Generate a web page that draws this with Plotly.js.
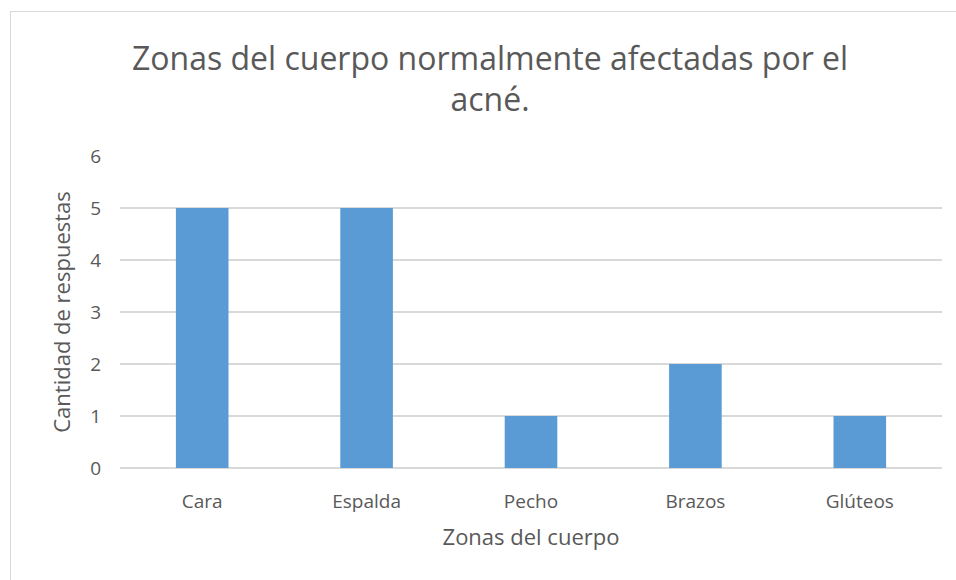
<!DOCTYPE html>
<html>
<head>
<meta charset="utf-8">
<script src="https://cdn.plot.ly/plotly-3.0.1.min.js"></script>
<style>
html,body{margin:0;padding:0;background:#fff;}
#frame{position:absolute;left:10px;top:11px;width:980px;height:600px;border:1.5px solid #d9d9d9;box-sizing:border-box;pointer-events:none;}
#chart{position:absolute;left:0;top:0;width:956px;height:580px;}
</style>
</head>
<body>
<div id="chart"></div>
<div id="frame"></div>
<script>
const categories = ["Cara", "Espalda", "Pecho", "Brazos", "Glúteos"];
const values = [5, 5, 1, 2, 1];
const yTicks = [0, 1, 2, 3, 4, 5, 6];

const textColor = "#595959";
const fontFamily = "'Open Sans', 'Noto Sans', sans-serif";

const data = [{
  type: "bar",
  x: categories,
  y: values,
  marker: {color: "#5b9bd5"},
  hoverinfo: "x+y"
}];

const layout = {
  width: 956,
  height: 580,
  margin: {l: 120, r: 14, t: 156, b: 112},
  paper_bgcolor: "#fff",
  plot_bgcolor: "#fff",
  bargap: 0.68,
  showlegend: false,
  font: {family: fontFamily, color: textColor},
  title: {
    text: "Zonas del cuerpo normalmente afectadas por el<br>acné.",
    font: {family: fontFamily, size: 32, color: textColor},
    x: 0.5126, xanchor: "center", xref: "container",
    y: 0.88, yanchor: "top", yref: "container"
  },
  xaxis: {
    type: "category",
    tickfont: {size: 19, color: textColor},
    showgrid: false,
    showline: false,
    ticks: "outside",
    ticklen: 16,
    tickcolor: "rgba(0,0,0,0)",
    title: {text: "Zonas del cuerpo", font: {size: 22, color: textColor}, standoff: 16}
  },
  yaxis: {
    range: [0, 6],
    tickvals: yTicks,
    ticktext: yTicks.map(String),
    tickfont: {size: 19, color: textColor},
    gridcolor: "#d9d9d9",
    gridwidth: 1.5,
    zeroline: true,
    zerolinecolor: "#d9d9d9",
    zerolinewidth: 1.5,
    showline: false,
    ticks: "outside",
    ticklen: 14,
    tickcolor: "rgba(0,0,0,0)",
    title: {text: "Cantidad de respuestas", font: {size: 22, color: textColor}, standoff: 13}
  }
};

Plotly.newPlot("chart", data, layout, {displayModeBar: false, responsive: false});
</script>
</body>
</html>
